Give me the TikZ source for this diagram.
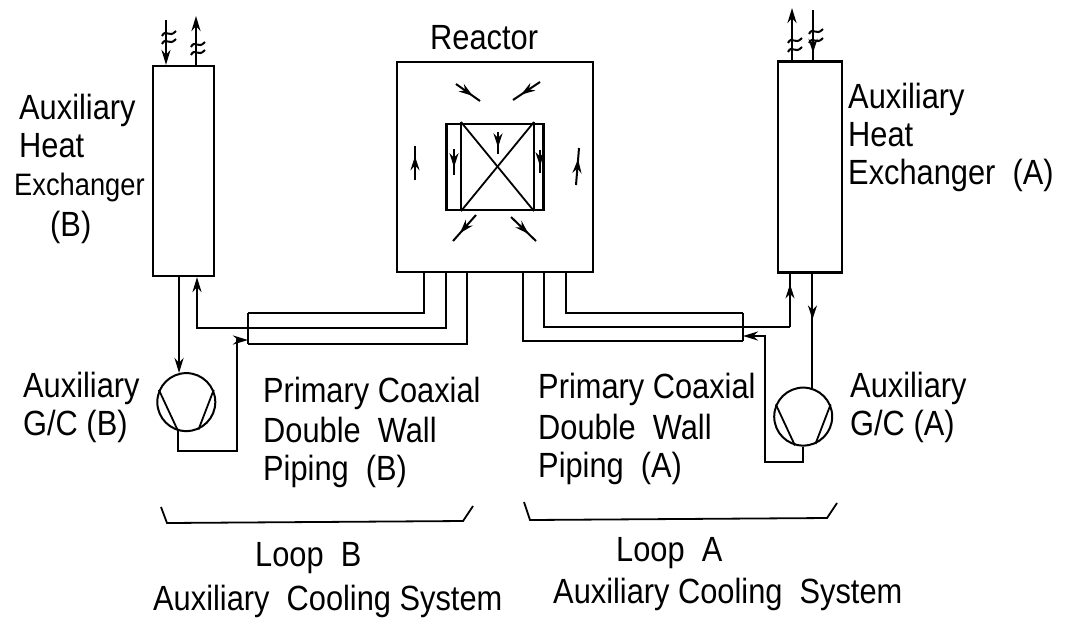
\documentclass[tikz,border=0pt]{standalone}
\usepackage{fontspec}
\setmainfont[FakeStretch=0.88]{Liberation Sans}
\usetikzlibrary{arrows.meta, positioning, decorations.markings}

\begin{document}
\begin{tikzpicture}[
  x=1pt, y=-1pt,
  >={Stealth[length=15pt,width=9pt]},
  node distance=100pt and 100pt,
  every node/.style={font=\fontsize{35}{38}\selectfont},
  unitbox/.style={rectangle, draw=black, line width=2.2pt, inner sep=0pt},
  pumpnode/.style={circle, draw=black, line width=2pt, minimum size=58pt, inner sep=0pt},
  caption/.style={inner sep=0pt, anchor=north west, align=left},
  pipe/.style={line width=2.4pt},
  thinline/.style={line width=1.8pt},
  flowmark/.style={line width=2pt, postaction={decorate}, decoration={markings, mark=at position #1 with {\arrow{Stealth[length=14pt,width=9pt]}}}},
  flowmark/.default=0.7,
  wave/.pic={\draw[line width=2pt] (-6,3) .. controls (-2,-5) and (1,6) .. (8,-2);}
]
\useasboundingbox (0,0) rectangle (1067,625);

% Reactor
\node[unitbox, minimum width=196pt, minimum height=210pt] (reactor) at (495,167) {};
\node[unitbox, minimum width=97pt, minimum height=86pt] (core) at (reactor) {};
\node[caption] (reactorlabel) at (430,25) {Reactor};
\coordinate (coreL) at (461,122);
\coordinate (coreR) at (534,122);
\draw[thinline] (coreL) -- (coreL |- core.south);
\draw[pipe] (coreR) -- (coreR |- core.south);
\draw[thinline] (coreL) -- (coreR |- core.south);
\draw[thinline] (coreR) -- (coreL |- core.south);

% Heat exchangers
\node[unitbox, minimum width=61pt, minimum height=210pt, left=181pt of reactor, yshift=-4pt] (hxb) {};
\node[unitbox, minimum width=64pt, minimum height=211pt, right=183pt of reactor] (hxa) {};

% Circulators
\node[pumpnode, below=95pt of hxb, xshift=3pt] (pumpb) {};
\node[pumpnode, below=113pt of hxa, xshift=-7pt] (pumpa) {};
\foreach \p in {pumpb, pumpa} {
  \draw[thinline] (\p.156) -- (\p.254);
  \draw[thinline] (\p.24) -- (\p.294);
}

% Labels
\node[caption] (hxblabel) at (14,94) {\hspace*{5pt}Auxiliary\\\hspace*{5pt}Heat\\{\fontsize{31}{38}\selectfont Exchanger}\\[3pt]\hspace*{36pt}(B)};
\node[caption] (hxalabel) at (848,83) {Auxiliary\\Heat\\Exchanger\ \ (A)};
\node[caption] (gcblabel) at (23,372) {Auxiliary\\G/C (B)};
\node[caption] (gcalabel) at (850,372) {Auxiliary\\G/C (A)};
\node[caption] (pipeblabel) at (263,377) {Primary Coaxial\\[2pt]Double\ \ Wall\\Piping\ \ (B)};
\node[caption] (pipealabel) at (538,373) {Primary Coaxial\\[3pt]Double\ \ Wall\\Piping\ \ (A)};
\node[caption] (loopblabel) at (255,542) {Loop\ \ B};
\node[caption] (loopalabel) at (616,537) {Loop\ \ A};
\node[caption] (sysblabel) at (153,585) {Auxiliary\ \ Cooling System};
\node[caption] (sysalabel) at (553,578) {Auxiliary Cooling\ \ System};

% Flow inside reactor
\coordinate (flowa) at (456,84);   \coordinate (flowb) at (480,101);
\coordinate (flowc) at (540,82);   \coordinate (flowd) at (513,100);
\coordinate (flowe) at (415,180);  \coordinate (flowf) at (415,146);
\coordinate (flowg) at (576,185);  \coordinate (flowh) at (579,148);
\coordinate (flowi) at (476,215);  \coordinate (flowj) at (453,241);
\coordinate (flowk) at (511,217);  \coordinate (flowl) at (536,241);
\coordinate (flowm) at (454,149);  \coordinate (flown) at (454,175);
\coordinate (flowo) at (498,132);  \coordinate (flowp) at (498,154);
\coordinate (flowq) at (540,150);  \coordinate (flowr) at (540,173);
\foreach \s/\e in {flowa/flowb, flowc/flowd, flowe/flowf, flowg/flowh, flowi/flowj, flowk/flowl, flowm/flown, flowo/flowp, flowq/flowr}
  \draw[flowmark] (\s) -- (\e);

% Secondary feeds
\coordinate (feedba) at (166,20);
\coordinate (feedbb) at (196,16);
\coordinate (feedaa) at (792,8);
\coordinate (feedab) at (813,10);
\draw[pipe, ->] (feedba) -- (hxb.north -| feedba);
\draw[pipe, ->] (hxb.north -| feedbb) -- (feedbb);
\draw[pipe, ->] (hxa.north -| feedaa) -- (feedaa);
\draw[pipe, flowmark=0.85] (feedab) -- (hxa.north -| feedab);
\foreach \x/\y in {168/33, 168/41, 197/44, 197/52, 794/40, 794/49, 815/31, 815/40}
  \pic at (\x,\y) {wave};

% Primary piping B
\coordinate (bendbi) at (424,313);
\coordinate (bendbm) at (446,328);
\coordinate (bendbo) at (467,344);
\coordinate (wallbt) at (248,313);
\coordinate (wallbb) at (248,344);
\coordinate (wallbr) at (248,340);
\coordinate (turnbm) at (197,328);
\coordinate (turnbr) at (237,451);
\draw[pipe] (reactor.south -| bendbi) -- (bendbi) -- (wallbt);
\draw[pipe] (reactor.south -| bendbo) -- (bendbo) -- (wallbb);
\draw[pipe] (wallbt) -- (wallbb);
\draw[pipe, ->] (reactor.south -| bendbm) -- (bendbm) -- (turnbm) -- (hxb.south -| turnbm);
\draw[pipe, ->] (hxb.south -| pumpb.104) -- (pumpb.104);
\draw[pipe, ->] (pumpb.254) |- (turnbr) |- (wallbr);

% Primary piping A
\coordinate (bendai) at (566,313);
\coordinate (bendam) at (544,327);
\coordinate (bendao) at (523,341);
\coordinate (wallat) at (743,313);
\coordinate (wallab) at (743,341);
\coordinate (wallar) at (743,336);
\coordinate (turnam) at (790,327);
\coordinate (turnar) at (765,462);
\draw[pipe] (reactor.south -| bendai) -- (bendai) -- (wallat);
\draw[pipe] (reactor.south -| bendao) -- (bendao) -- (wallab);
\draw[pipe] (wallat) -- (wallab);
\draw[pipe] (reactor.south -| bendam) -- (bendam) -- (turnam);
\draw[pipe, flowmark=0.8] (turnam) -- (hxa.south -| turnam);
\draw[pipe, flowmark=0.4] (hxa.south -| pumpa.72) -- (pumpa.72);
\draw[pipe, ->] (pumpa.south) |- (turnar) |- (wallar);

% Loop brackets
\draw[thinline] (161,507) -- (167,523) -- (463,521) -- (473,506);
\draw[thinline] (524,502) -- (530,520) -- (827,518) -- (837,503);

\end{tikzpicture}
\end{document}
